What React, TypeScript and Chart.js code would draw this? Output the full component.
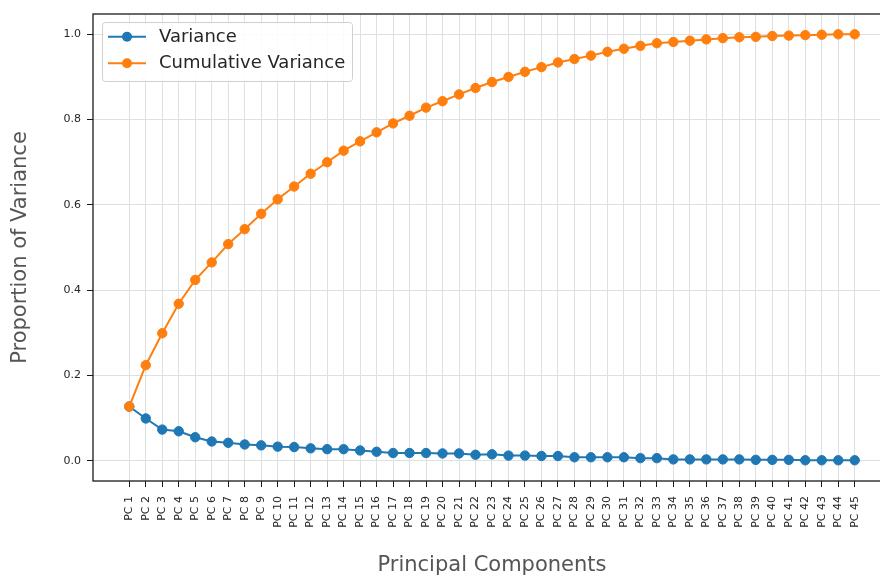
import React, { useEffect, useRef } from "react";
import { Chart, registerables } from "chart.js";

Chart.register(...registerables);

// Principal component names shown along the x axis
const components = [
  "PC 1", "PC 2", "PC 3", "PC 4", "PC 5", "PC 6", "PC 7", "PC 8", "PC 9", "PC 10",
  "PC 11", "PC 12", "PC 13", "PC 14", "PC 15", "PC 16", "PC 17", "PC 18", "PC 19", "PC 20",
  "PC 21", "PC 22", "PC 23", "PC 24", "PC 25", "PC 26", "PC 27", "PC 28", "PC 29", "PC 30",
  "PC 31", "PC 32", "PC 33", "PC 34", "PC 35", "PC 36", "PC 37", "PC 38", "PC 39", "PC 40",
  "PC 41", "PC 42", "PC 43", "PC 44", "PC 45",
];

// Explained variance ratio per component
const variance = [
  0.127, 0.099, 0.073, 0.069, 0.055, 0.045, 0.042, 0.038, 0.036, 0.033,
  0.032, 0.029, 0.027, 0.027, 0.024, 0.021, 0.018, 0.018, 0.018, 0.017,
  0.017, 0.014, 0.015, 0.012, 0.012, 0.011, 0.011, 0.008, 0.008, 0.008,
  0.008, 0.006, 0.006, 0.003, 0.003, 0.003, 0.003, 0.003, 0.002, 0.002,
  0.002, 0.001, 0.001, 0.001, 0.001,
];

// Running total of the explained variance
const cumulativeVariance = [
  0.127, 0.224, 0.299, 0.368, 0.424, 0.465, 0.508, 0.543, 0.579, 0.613,
  0.643, 0.673, 0.700, 0.727, 0.749, 0.770, 0.791, 0.809, 0.828, 0.843,
  0.859, 0.874, 0.888, 0.900, 0.912, 0.923, 0.934, 0.942, 0.950, 0.959,
  0.966, 0.973, 0.979, 0.982, 0.985, 0.988, 0.991, 0.993, 0.994, 0.996,
  0.997, 0.998, 0.999, 1.0, 1.0,
];

const yTicks = [0, 0.2, 0.4, 0.6, 0.8, 1.0];

const seriesNames = ["Variance", "Cumulative Variance"];
const xTitle = "Principal Components";
const yTitle = "Proportion of Variance";

const BLUE = "#1f77b4";
const ORANGE = "#ff7f0e";
const GRID = "#dce0e0";
const INK = "#262626";
const TITLE_INK = "#555555";
const FONT = "'DejaVu Sans', sans-serif";

// Frame, axis titles and a matplotlib-like legend box
const decorations = {
  id: "decorations",
  afterDatasetsDraw(chart: any) {
    const { ctx, chartArea: a } = chart;
    ctx.save();
    ctx.strokeStyle = "#1a1a1a";
    ctx.lineWidth = 1.3;
    ctx.strokeRect(a.left, a.top, a.right - a.left, a.bottom - a.top);
    ctx.restore();
  },
  afterDraw(chart: any) {
    const { ctx, chartArea: a } = chart;
    ctx.save();
    ctx.fillStyle = TITLE_INK;
    ctx.font = `21px ${FONT}`;
    ctx.textAlign = "center";
    ctx.textBaseline = "middle";
    ctx.fillText(xTitle, (a.left + a.right) / 2, 566);
    ctx.translate(21, (a.top + a.bottom) / 2);
    ctx.rotate(-Math.PI / 2);
    ctx.fillText(yTitle, 0, 0);
    ctx.restore();

    // legend
    const bx = 102.5, by = 22.5, bw = 250, bh = 59, r = 3;
    ctx.save();
    ctx.beginPath();
    ctx.moveTo(bx + r, by);
    ctx.arcTo(bx + bw, by, bx + bw, by + bh, r);
    ctx.arcTo(bx + bw, by + bh, bx, by + bh, r);
    ctx.arcTo(bx, by + bh, bx, by, r);
    ctx.arcTo(bx, by, bx + bw, by, r);
    ctx.closePath();
    ctx.fillStyle = "rgba(255,255,255,0.85)";
    ctx.fill();
    ctx.strokeStyle = "#d0d0d0";
    ctx.lineWidth = 1;
    ctx.stroke();

    const colors = [BLUE, ORANGE];
    const rows = [36.7, 63.3];
    seriesNames.forEach((name, i) => {
      const y = rows[i];
      ctx.strokeStyle = colors[i];
      ctx.lineWidth = 2;
      ctx.beginPath();
      ctx.moveTo(108, y);
      ctx.lineTo(146, y);
      ctx.stroke();
      ctx.fillStyle = colors[i];
      ctx.beginPath();
      ctx.arc(127, y, 5, 0, Math.PI * 2);
      ctx.fill();
      ctx.fillStyle = INK;
      ctx.font = `18px ${FONT}`;
      ctx.textAlign = "left";
      ctx.textBaseline = "middle";
      ctx.fillText(name, 159, y + 0.5);
    });
    ctx.restore();
  },
};

export default function App() {
  const ref = useRef<HTMLCanvasElement>(null);

  useEffect(() => {
    const canvas = ref.current;
    if (!canvas) return;
    const line = (name: string, values: number[], color: string, order: number) => ({
      label: name,
      data: values.map((v, i) => ({ x: i + 1, y: v })),
      borderColor: color,
      backgroundColor: color,
      pointBackgroundColor: color,
      pointBorderColor: color,
      pointBorderWidth: 1,
      pointRadius: 4.7,
      borderWidth: 2,
      tension: 0,
      order,
    });

    const chart = new Chart(canvas, {
      type: "line",
      data: {
        datasets: [
          line(seriesNames[0], variance, BLUE, 1),
          line(seriesNames[1], cumulativeVariance, ORANGE, 0),
        ],
      },
      options: {
        responsive: false,
        animation: false,
        devicePixelRatio: 1,
        layout: { padding: { top: 14, right: 9, left: 0, bottom: 0 } },
        plugins: { legend: { display: false }, tooltip: { enabled: false } },
        scales: {
          x: {
            type: "linear",
            min: -1.2,
            max: 47.2,
            afterBuildTicks: (s: any) => {
              s.ticks = components.map((_, i) => ({ value: i + 1 }));
            },
            afterFit: (s: any) => {
              s.height = 96;
            },
            ticks: {
              autoSkip: false,
              maxRotation: 90,
              minRotation: 90,
              padding: 9,
              color: INK,
              font: { family: FONT, size: 11 },
              callback: (v: any) => components[Math.round(v) - 1] ?? "",
            },
            grid: { color: GRID, lineWidth: 1, tickColor: "#1a1a1a", tickLength: 6 },
            border: { display: false },
          },
          y: {
            type: "linear",
            min: -0.0476,
            max: 1.0476,
            afterBuildTicks: (s: any) => {
              s.ticks = yTicks.map((v) => ({ value: v }));
            },
            afterFit: (s: any) => {
              s.width = 93;
            },
            ticks: {
              padding: 6,
              color: INK,
              font: { family: FONT, size: 11 },
              callback: (v: any) => Number(v).toFixed(1),
            },
            grid: { color: GRID, lineWidth: 1, tickColor: "#1a1a1a", tickLength: 6 },
            border: { display: false },
          },
        },
      },
      plugins: [decorations],
    });
    return () => chart.destroy();
  }, []);

  return (
    <div
      style={{
        position: "fixed",
        left: 0,
        top: 0,
        width: 880,
        height: 577,
        overflow: "hidden",
        background: "#ffffff",
      }}
    >
      <canvas ref={ref} width={900} height={577} style={{ display: "block", width: 900, height: 577 }} />
    </div>
  );
}
